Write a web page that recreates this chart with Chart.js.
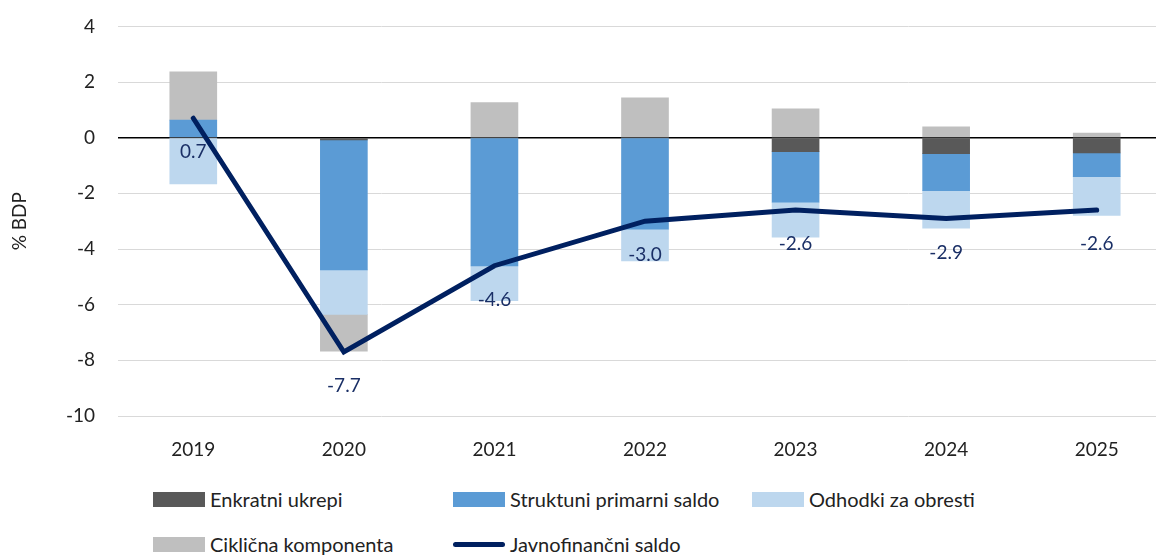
<!DOCTYPE html>
<html>
<head>
<meta charset="utf-8">
<script src="https://cdn.jsdelivr.net/npm/chart.js@4.4.1/dist/chart.umd.min.js"></script>
<style>
  html, body { margin: 0; padding: 0; overflow: hidden; background: #fff; }
  #wrap { position: relative; width: 1172px; height: 555px; }
  #chartBox { position: absolute; left: 0; top: -8px; width: 1172px; height: 478px; }
  .lg { position: absolute; font: 20px Lato, sans-serif; color: #222; white-space: nowrap; }
  .lg .sw { display: inline-block; width: 52px; height: 15px; vertical-align: middle; margin-right: 5px; position: relative; top: -2px; }
  .lg .ln { display: inline-block; width: 52px; height: 5px; border-radius: 3px; background: #002060; vertical-align: middle; margin-right: 5px; position: relative; top: -2px; }
</style>
</head>
<body>
<div id="wrap">
  <div id="chartBox"><canvas id="c"></canvas></div>
  <div class="lg" style="left:153px;top:487px"><span class="sw" style="background:#595959"></span>Enkratni ukrepi</div>
  <div class="lg" style="left:453px;top:487px"><span class="sw" style="background:#5b9bd5"></span>Struktuni primarni saldo</div>
  <div class="lg" style="left:752px;top:487px"><span class="sw" style="background:#bdd7ee"></span>Odhodki za obresti</div>
  <div class="lg" style="left:153px;top:532px"><span class="sw" style="background:#bfbfbf"></span>Ciklična komponenta</div>
  <div class="lg" style="left:453px;top:532px"><span class="ln"></span>Javnofinančni saldo</div>
</div>
<script>
// Data (% BDP)
const years = ["2019", "2020", "2021", "2022", "2023", "2024", "2025"];
const enkratni = [0, -0.08, 0, 0, -0.5, -0.57, -0.55];
const strukturni = [0.63, -4.67, -4.61, -3.29, -1.82, -1.33, -0.85];
const obresti = [-1.66, -1.6, -1.25, -1.14, -1.25, -1.35, -1.39];
const ciklicna = [1.74, -1.32, 1.26, 1.43, 1.04, 0.39, 0.17];
const saldo = [0.7, -7.7, -4.6, -3.0, -2.6, -2.9, -2.6];
const yTicks = [4, 2, 0, -2, -4, -6, -8, -10];

const FONT = "Lato, sans-serif";
const TEXT = "#222";

// value labels under the line points
const lineLabels = {
  id: "lineLabels",
  afterDatasetsDraw(chart) {
    const { ctx } = chart;
    const meta = chart.getDatasetMeta(4);
    ctx.save();
    ctx.font = "19px " + FONT;
    ctx.fillStyle = "#1a2f66";
    ctx.textAlign = "center";
    ctx.textBaseline = "middle";
    meta.data.forEach((pt, i) => {
      ctx.fillText(saldo[i].toFixed(1), pt.x, pt.y + 34);
    });
    ctx.restore();
  },
};

const barDs = (label, data, color) => ({
  type: "bar",
  label,
  data,
  backgroundColor: color,
  borderWidth: 0,
  barThickness: 47,
  stack: "bars",
  order: 1,
});

new Chart(document.getElementById("c"), {
  data: {
    labels: years,
    datasets: [
      barDs("Enkratni ukrepi", enkratni, "#595959"),
      barDs("Struktuni primarni saldo", strukturni, "#5b9bd5"),
      barDs("Odhodki za obresti", obresti, "#bdd7ee"),
      barDs("Ciklična komponenta", ciklicna, "#bfbfbf"),
      {
        type: "line",
        label: "Javnofinančni saldo",
        data: saldo,
        borderColor: "#002060",
        borderWidth: 5,
        borderCapStyle: "round",
        pointRadius: 0,
        tension: 0,
        stack: "line",
        order: 0,
      },
    ],
  },
  options: {
    responsive: true,
    maintainAspectRatio: false,
    animation: false,
    layout: { padding: { top: 17, left: 0, right: 0, bottom: 0 } },
    plugins: {
      legend: { display: false },
      tooltip: { enabled: false },
    },
    scales: {
      x: {
        stacked: true,
        grid: { display: false, drawTicks: false },
        border: { display: false },
        ticks: { color: TEXT, font: { family: FONT, size: 19 }, padding: 22 },
        afterFit: (s) => { s.height = 54; },
      },
      y: {
        stacked: true,
        min: -10,
        max: 4,
        afterBuildTicks: (s) => { s.ticks = yTicks.map((v) => ({ value: v })); },
        grid: {
          drawTicks: false,
          color: (c) => (c.tick && c.tick.value === 0 ? "#000" : "#d9d9d9"),
          lineWidth: (c) => (c.tick && c.tick.value === 0 ? 1.5 : 1),
        },
        border: { display: false },
        ticks: { color: TEXT, font: { family: FONT, size: 19 }, padding: 23 },
        title: {
          display: true,
          text: "% BDP",
          color: TEXT,
          font: { family: FONT, size: 19 },
          padding: { top: 8, bottom: 0 },
        },
        afterFit: (s) => { s.width = 118; },
      },
    },
  },
  plugins: [lineLabels],
});
</script>
</body>
</html>
